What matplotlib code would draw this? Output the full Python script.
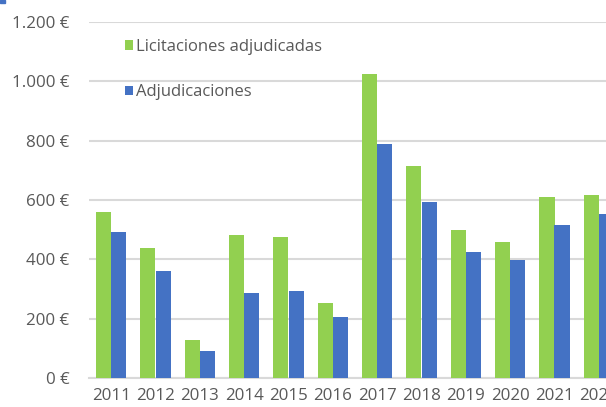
import numpy as np
import matplotlib
matplotlib.use("Agg")
from matplotlib import pyplot as plt
from matplotlib.patches import Rectangle

years = ["2011", "2012", "2013", "2014", "2015", "2016",
         "2017", "2018", "2019", "2020", "2021", "2022"]
licitaciones = [560, 437, 127, 481, 474, 252, 1026, 716, 499, 457, 609, 616]
adjudicaciones = [491, 362, 91, 285, 293, 205, 788, 593, 424, 397, 516, 554]
y_ticks = [0, 200, 400, 600, 800, 1000, 1200]
y_labels = ["0 €", "200 €", "400 €", "600 €", "800 €", "1.000 €", "1.200 €"]

green = "#92d050"
blue = "#4472c4"
grid = "#d9d9d9"
txt = "#595959"

plt.rcParams['font.family'] = ['Open Sans', 'DejaVu Sans']

fig = plt.figure(figsize=(6.06, 4.07), dpi=100)
# axes run a bit past the right edge, like the original screenshot
ax = fig.add_axes([89 / 606, 1 - 378 / 407, 532 / 606, 356 / 407])

x = np.arange(len(years))
w = 0.34
ax.bar(x - w / 2, licitaciones, w, color=green, label="Licitaciones adjudicadas", zorder=3)
ax.bar(x + w / 2, adjudicaciones, w, color=blue, label="Adjudicaciones", zorder=3)

ax.set_xlim(-0.5, len(years) - 0.5)
ax.set_ylim(0, 1200)
ax.set_yticks(y_ticks)
ax.set_yticklabels(y_labels)
ax.set_xticks(x)
ax.set_xticklabels(years)
ax.yaxis.grid(True, color=grid, linewidth=1.5, zorder=0)
ax.set_axisbelow(True)
for s in ["top", "right", "left"]:
    ax.spines[s].set_visible(False)
ax.spines["bottom"].set_color(grid)
ax.spines["bottom"].set_linewidth(1.5)
ax.tick_params(axis="both", length=0, colors=txt, labelsize=12.2)
ax.tick_params(axis="y", pad=14)
ax.tick_params(axis="x", pad=7)

leg = ax.legend(loc="upper left", bbox_to_anchor=(0.045, 0.985), frameon=False,
                fontsize=12, labelspacing=1.75, handlelength=0.5,
                handleheight=0.5, handletextpad=0.2, borderaxespad=0.3)
for t in leg.get_texts():
    t.set_color(txt)

# small blue fragment in the top-left corner of the screenshot
fig.patches.append(Rectangle((0, 1 - 3 / 407), 5 / 606, 3 / 407,
                             transform=fig.transFigure, color=blue))

fig.savefig("out.png", dpi=100)
